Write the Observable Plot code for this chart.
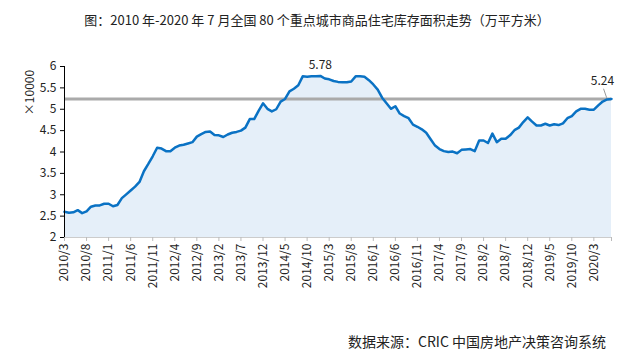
<!DOCTYPE html>
<html>
<head>
<meta charset="utf-8">
<script src="https://cdn.jsdelivr.net/npm/d3@7"></script>
<script src="https://cdn.jsdelivr.net/npm/@observablehq/plot@0.6"></script>
<style>
  html, body { margin: 0; padding: 0; background: #fff; }
  body { width: 634px; height: 354px; overflow: hidden; position: relative; font-family: "Noto Sans CJK SC", sans-serif; color: #222; }
  #title { height: 40px; line-height: 40px; font-size: 13px; text-align: center; white-space: nowrap; }
  #caption { position: absolute; top: 331px; right: 28px; font-size: 14px; line-height: 20px; white-space: nowrap; }
  svg { display: block; }
</style>
</head>
<body>
<div id="title">图：2010 年-2020 年 7 月全国 80 个重点城市商品住宅库存面积走势（万平方米）</div>
<div id="chart"></div>
<div id="caption">数据来源：CRIC 中国房地产决策咨询系统</div>
<script>
// Monthly inventory (×10000 m²), 2010/3 – 2020/7
const startYear = 2010, startMonth = 3;
const values = [
  2.60,2.58,2.59,2.64,2.57,2.61,2.72,2.75,2.75,2.79,
  2.79,2.73,2.76,2.92,3.01,3.10,3.19,3.30,3.55,3.72,
  3.90,4.10,4.08,4.02,4.02,4.10,4.15,4.17,4.20,4.23,
  4.36,4.42,4.47,4.48,4.40,4.39,4.35,4.41,4.45,4.47,
  4.50,4.57,4.77,4.77,4.96,5.14,5.01,4.95,5.00,5.18,
  5.24,5.42,5.48,5.56,5.77,5.76,5.77,5.77,5.78,5.72,
  5.70,5.66,5.64,5.63,5.63,5.65,5.77,5.77,5.76,5.68,
  5.58,5.46,5.27,5.14,5.01,5.07,4.90,4.84,4.79,4.64,
  4.59,4.53,4.45,4.30,4.15,4.07,4.02,4.00,4.01,3.97,
  4.05,4.06,4.07,4.02,4.27,4.27,4.21,4.43,4.23,4.31,
  4.31,4.39,4.51,4.57,4.70,4.81,4.71,4.62,4.62,4.66,
  4.62,4.65,4.63,4.67,4.79,4.84,4.95,5.01,5.01,4.99,
  4.99,5.09,5.18,5.23,5.24
];
const months = values.map((_, i) => {
  const m = startMonth - 1 + i;
  return `${startYear + Math.floor(m / 12)}/${(m % 12) + 1}`;
});
const yTicks = [2, 2.5, 3, 3.5, 4, 4.5, 5, 5.5, 6];
const xTickStep = 5;
const refValue = 5.24;
const yLabel = "×10000";

const data = values.map((v, i) => ({i, v, month: months[i]}));
const xTicks = d3.range(0, values.length - 1, xTickStep);
const last = data[data.length - 1];
const peak = data[d3.maxIndex(data, d => d.v)];

const chart = Plot.plot({
  width: 634,
  height: 280,
  marginTop: 26,
  marginBottom: 83,
  marginLeft: 64,
  marginRight: 23,
  style: {fontFamily: "'Noto Sans CJK SC', sans-serif", fontSize: "12px", background: "#fff", color: "#222"},
  x: {domain: [0, values.length - 1], axis: null, label: null},
  y: {domain: [2, 6], axis: null, label: null},
  marks: [
    Plot.areaY(data, {x: "i", y1: 2, y2: "v", fill: "#e5eff9"}),
    Plot.ruleY([refValue], {stroke: "#aaaaaa", strokeWidth: 3}),
    Plot.lineY(data, {x: "i", y: "v", stroke: "#0a72c4", strokeWidth: 2.5}),
    Plot.ruleY([2], {stroke: "#cccccc"}),
    Plot.ruleX([0], {stroke: "#000"}),
    Plot.axisX({ticks: xTicks, tickFormat: i => months[i], tickRotate: -90, tickSize: 4, tickPadding: 2, stroke: "#bbbbbb", fill: "#222", fontSize: 12, label: null}),
    Plot.axisX({ticks: [values.length - 1], tickFormat: () => "", tickSize: 4, stroke: "#bbbbbb", label: null}),
    Plot.axisY({ticks: yTicks, tickFormat: d => String(d), tickSize: 4, tickPadding: 4, stroke: "#000", fill: "#222", fontSize: 12, label: null}),
    Plot.text([yLabel], {frameAnchor: "top-left", textAnchor: "middle", rotate: -90, dx: -39, dy: 26, fontSize: 12, fill: "#222"}),
    Plot.text([peak], {x: "i", y: "v", text: d => d.v.toFixed(2), dy: -11, fontSize: 12, fill: "#222"}),
    Plot.text([last], {x: "i", y: "v", text: d => d.v.toFixed(2), dx: -9, dy: -18, fontSize: 12, fill: "#222"}),
    Plot.link([last], {x1: d => d.i - 1.8, y1: d => d.v + 0.24, x2: d => d.i - 1.1, y2: d => d.v + 0.03, stroke: "#999", strokeWidth: 1})
  ]
});
document.getElementById("chart").appendChild(chart);
</script>
</body>
</html>
